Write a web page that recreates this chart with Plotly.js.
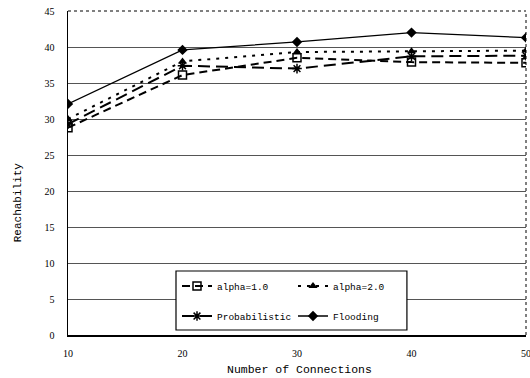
<!DOCTYPE html>
<html>
<head>
<meta charset="utf-8">
<script src="https://cdn.plot.ly/plotly-3.0.1.min.js"></script>
<style>html,body{margin:0;padding:0;background:#fff;}#chart{width:530px;height:378px;}</style>
</head>
<body>
<div id="chart"></div>
<script>
const connections = [10, 20, 30, 40, 50];
const alpha1 = [28.8, 36.1, 38.5, 37.9, 37.8];
const alpha2 = [30.0, 38.0, 39.3, 39.4, 39.5];
const probabilistic = [29.3, 37.4, 37.0, 38.7, 38.8];
const flooding = [32.1, 39.6, 40.7, 42.0, 41.3];
const yTicks = [0, 5, 10, 15, 20, 25, 30, 35, 40, 45];
const xTicks = [10, 20, 30, 40, 50];

const traces = [
  {x: connections, y: alpha1, name: 'alpha=1.0', mode: 'lines+markers', legend: 'legend',
   line: {color: '#000', width: 2, dash: '8px,5px'},
   marker: {symbol: 'square-open', size: 8, color: '#000', line: {width: 1.5, color: '#000'}}},
  {x: connections, y: alpha2, name: 'alpha=2.0', mode: 'lines+markers', legend: 'legend',
   line: {color: '#000', width: 2, dash: '3px,6px'},
   marker: {symbol: 'triangle-up', size: 8, color: '#000'}},
  {x: connections, y: probabilistic, name: 'Probabilistic', mode: 'lines+markers', legend: 'legend2',
   line: {color: '#000', width: 2, dash: '12px,6px'},
   marker: {symbol: 'asterisk-open', size: 8, color: '#000', line: {width: 1.5, color: '#000'}}},
  {x: connections, y: flooding, name: 'Flooding', mode: 'lines+markers', legend: 'legend2',
   line: {color: '#000', width: 1.3},
   marker: {symbol: 'diamond', size: 8, color: '#000'}}
];

const legendFont = {family: 'Liberation Mono, monospace', size: 9.5, color: '#000'};
const legendCommon = {
  orientation: 'h', entrywidth: 71, itemwidth: 30,
  bgcolor: 'rgba(0,0,0,0)', borderwidth: 0,
  font: legendFont, xanchor: 'left', yanchor: 'middle'
};

const layout = {
  width: 530, height: 378,
  margin: {l: 68, r: 4, t: 11, b: 43},
  paper_bgcolor: '#fff', plot_bgcolor: '#fff',
  font: {family: 'Liberation Serif, serif', size: 10, color: '#000'},
  xaxis: {
    range: [10, 50], tickvals: xTicks, ticktext: xTicks.map(String),
    showgrid: false, zeroline: false, showline: true, linecolor: '#000', linewidth: 1.5,
    ticks: '', ticklen: 0, ticklabeloverflow: 'allow', ticklabelstandoff: 8,
    tickfont: {family: 'Liberation Serif, serif', size: 10, color: '#000'}
  },
  yaxis: {
    range: [0, 45], tickvals: yTicks, ticktext: yTicks.map(String),
    showgrid: true, gridcolor: '#555', gridwidth: 1,
    zeroline: false, showline: true, linecolor: '#000', linewidth: 1.5,
    ticks: '', ticklen: 0, ticklabelstandoff: 10,
    tickfont: {family: 'Liberation Serif, serif', size: 10, color: '#000'}
  },
  annotations: [
    {text: 'Number of Connections', xref: 'paper', yref: 'paper', x: 0.505, y: -0.108,
     xanchor: 'center', yanchor: 'middle', showarrow: false,
     font: {family: 'Liberation Mono, monospace', size: 11.5, color: '#000'}},
    {text: 'Reachability', xref: 'paper', yref: 'paper', x: -0.109, y: 0.41,
     xanchor: 'center', yanchor: 'middle', showarrow: false, textangle: -90,
     font: {family: 'Liberation Mono, monospace', size: 11, color: '#000'}}
  ],
  shapes: [
    {type: 'line', xref: 'paper', yref: 'paper', x0: 0, x1: 1, y0: 1, y1: 1, line: {color: '#000', width: 1, dash: 'dot'}},
    {type: 'line', xref: 'paper', yref: 'paper', x0: 1, x1: 1, y0: 0, y1: 1, line: {color: '#000', width: 1, dash: 'dot'}},
    {type: 'rect', xref: 'paper', yref: 'paper', x0: 0.2358, x1: 0.740, y0: 0.0154, y1: 0.1975,
     fillcolor: '#fff', line: {color: '#000', width: 1.2}, layer: 'above'}
  ],
  showlegend: true,
  legend: Object.assign({x: 0.238, y: 0.151}, legendCommon),
  legend2: Object.assign({x: 0.238, y: 0.0586}, legendCommon)
};

Plotly.newPlot('chart', traces, layout, {displayModeBar: false, staticPlot: true});
</script>
</body>
</html>
